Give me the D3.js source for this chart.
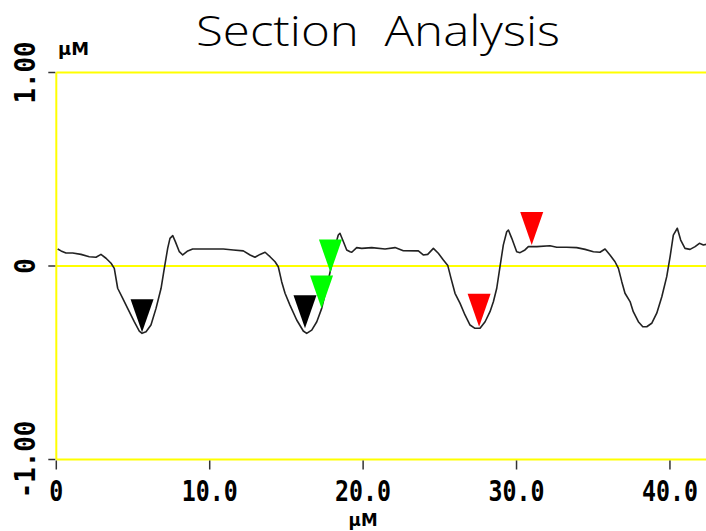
<!DOCTYPE html>
<html>
<head>
<meta charset="utf-8">
<script src="https://cdn.jsdelivr.net/npm/d3@7"></script>
<style>
  html, body { margin: 0; padding: 0; background: #fff; }
  svg { display: block; }
</style>
</head>
<body>
<svg id="chart" width="706" height="531"></svg>
<script>
// Scan profile: lateral distance (µm) and height (µm)
const distance = [
  0.09, 0.31, 0.63, 1.07, 1.61, 2.15, 2.59, 2.91, 3.24, 3.57, 3.78, 4.00, 4.33, 4.65, 5.08, 5.41, 5.59, 5.85,
  6.17, 6.50, 6.83, 7.04, 7.26, 7.41, 7.59, 7.76, 8.02, 8.24, 8.57, 8.89, 9.76,
  10.23, 10.89, 11.54, 12.19, 12.63, 12.95, 13.28, 13.61, 13.93, 14.26, 14.47, 14.69, 14.91, 15.23, 15.67,
  16.10, 16.32, 16.65, 16.98, 17.30, 17.63, 17.95, 18.17, 18.38, 18.49, 18.67, 18.93, 19.15,
  19.26, 19.58, 19.91, 20.56, 21.43, 22.08, 22.62, 23.60, 23.92, 24.21, 24.58, 24.90, 25.23, 25.52, 25.73,
  25.99, 26.32, 26.64, 26.97, 27.29, 27.62, 27.95, 28.27, 28.49, 28.71, 28.92, 29.14, 29.36, 29.47, 29.69,
  30.01, 30.23, 30.55, 30.77, 31.32, 32.18, 32.62, 33.27, 33.92, 34.47, 35.01, 35.44, 35.77, 36.09, 36.42,
  36.64, 36.86, 37.07, 37.40, 37.61, 37.94, 38.23, 38.49, 38.81, 39.14, 39.47, 39.79, 40.01, 40.22, 40.48,
  40.70, 40.98, 41.31, 41.64, 41.92, 42.18, 42.35
];
const height = [
  0.088, 0.078, 0.067, 0.067, 0.060, 0.048, 0.045, 0.060, 0.040, 0.014, -0.012, -0.115, -0.167, -0.219, -0.288, -0.336, -0.348, -0.340,
  -0.305, -0.219, -0.115, -0.012, 0.091, 0.143, 0.157, 0.126, 0.074, 0.057, 0.078, 0.088, 0.088,
  0.088, 0.088, 0.083, 0.078, 0.057, 0.045, 0.060, 0.071, 0.048, 0.022, -0.004, -0.081, -0.141, -0.202, -0.279,
  -0.336, -0.348, -0.331, -0.288, -0.219, -0.107, 0.005, 0.100, 0.160, 0.169, 0.134, 0.083, 0.074,
  0.071, 0.095, 0.091, 0.095, 0.088, 0.095, 0.079, 0.078, 0.057, 0.060, 0.091, 0.066, 0.031, 0.002, -0.064,
  -0.141, -0.193, -0.253, -0.305, -0.322, -0.322, -0.288, -0.236, -0.185, -0.115, -0.004, 0.109, 0.177, 0.186, 0.143,
  0.074, 0.069, 0.083, 0.100, 0.100, 0.105, 0.097, 0.097, 0.095, 0.086, 0.074, 0.071, 0.088, 0.057, 0.022,
  -0.012, -0.081, -0.141, -0.184, -0.236, -0.288, -0.314, -0.314, -0.296, -0.244, -0.159, -0.055, 0.048, 0.160, 0.195,
  0.134, 0.091, 0.086, 0.100, 0.117, 0.109, 0.112
];

// Cursor markers (distance, height, colour)
const markerX = [5.59, 16.21, 17.29, 17.87, 27.56, 30.99];
const markerY = [-0.343, -0.322, -0.219, -0.034, -0.314, 0.109];
const markerColor = ["#000000", "#000000", "#00ff00", "#00ff00", "#ff0000", "#ff0000"];

// Axis ticks
const xTicks = [0, 10, 20, 30, 40];
const xTickLabels = ["0", "10.0", "20.0", "30.0", "40.0"];
const yTicks = [1, 0, -1];
const yTickLabels = ["1.00", "0", "-1.00"];

const titleText = "Section  Analysis";
const unitText = "µM";

const svg = d3.select("#chart");
const x = d3.scaleLinear().domain([0, 42.35]).range([56.3, 706]);
const y = d3.scaleLinear().domain([-1, 1]).range([459.5, 72.5]);

// Title
svg.append("text")
  .attr("x", 196).attr("y", 46)
  .attr("textLength", 364).attr("lengthAdjust", "spacingAndGlyphs")
  .style("font-family", "'Open Sans', sans-serif")
  .style("font-weight", 300)
  .style("font-size", "43px")
  .style("white-space", "pre")
  .attr("fill", "#000")
  .text(titleText);

// Unit labels
const unitFont = "'DejaVu Sans', sans-serif";
svg.append("text")
  .attr("x", 58).attr("y", 55)
  .attr("textLength", 31).attr("lengthAdjust", "spacingAndGlyphs")
  .style("font-family", unitFont)
  .style("font-weight", "bold")
  .style("font-size", "18px")
  .attr("fill", "#000")
  .text(unitText);

svg.append("text")
  .attr("x", x(20)).attr("y", 526)
  .attr("text-anchor", "middle")
  .attr("textLength", 29).attr("lengthAdjust", "spacingAndGlyphs")
  .style("font-family", unitFont)
  .style("font-weight", "bold")
  .style("font-size", "18px")
  .attr("fill", "#000")
  .text(unitText);

// Yellow grid: horizontal reference lines and left border
const yellow = "#ffff00";
svg.append("g").selectAll("line").data(yTicks).join("line")
  .attr("x1", x(0)).attr("x2", 706)
  .attr("y1", d => y(d)).attr("y2", d => y(d))
  .attr("stroke", yellow).attr("stroke-width", 2);
svg.append("line")
  .attr("x1", x(0)).attr("x2", x(0))
  .attr("y1", y(1)).attr("y2", y(-1))
  .attr("stroke", yellow).attr("stroke-width", 2);

// Tick marks
svg.append("g").selectAll("line").data(yTicks).join("line")
  .attr("x1", x(0) - 8).attr("x2", x(0) - 1)
  .attr("y1", d => y(d)).attr("y2", d => y(d))
  .attr("stroke", "#333").attr("stroke-width", 1.5);
svg.append("g").selectAll("line").data(xTicks).join("line")
  .attr("x1", d => x(d)).attr("x2", d => x(d))
  .attr("y1", y(-1) + 1).attr("y2", y(-1) + 10)
  .attr("stroke", "#333").attr("stroke-width", 1.5);

// Tick labels
const labelFont = "'DejaVu Sans Mono', monospace";
svg.append("g").selectAll("text").data(xTicks).join("text")
  .attr("x", d => x(d)).attr("y", 501)
  .attr("text-anchor", "middle")
  .attr("textLength", (d, i) => xTickLabels[i].length * 14)
  .attr("lengthAdjust", "spacingAndGlyphs")
  .style("font-family", labelFont)
  .style("font-weight", "bold")
  .style("font-size", "28px")
  .attr("fill", "#000")
  .text((d, i) => xTickLabels[i]);

svg.append("g").selectAll("text").data(yTicks).join("text")
  .attr("transform", d => `translate(35,${y(d)}) rotate(-90)`)
  .attr("text-anchor", "middle")
  .attr("textLength", (d, i) => yTickLabels[i].length * 15.5)
  .attr("lengthAdjust", "spacingAndGlyphs")
  .style("font-family", labelFont)
  .style("font-weight", "bold")
  .style("font-size", "29px")
  .attr("fill", "#000")
  .text((d, i) => yTickLabels[i]);

// Profile line
const line = d3.line().x(d => x(d[0])).y(d => y(d[1]));
svg.append("path")
  .datum(d3.zip(distance, height))
  .attr("d", line)
  .attr("fill", "none")
  .attr("stroke", "#222")
  .attr("stroke-width", 1.6)
  .attr("stroke-linejoin", "round");

// Downward triangle markers, tip on the given point
const triW = 23, triH = 33;
svg.append("g").selectAll("path").data(d3.range(markerX.length)).join("path")
  .attr("d", i => {
    const px = x(markerX[i]), py = y(markerY[i]);
    return `M${px},${py}L${px - triW / 2},${py - triH}L${px + triW / 2},${py - triH}Z`;
  })
  .attr("fill", i => markerColor[i]);
</script>
</body>
</html>
